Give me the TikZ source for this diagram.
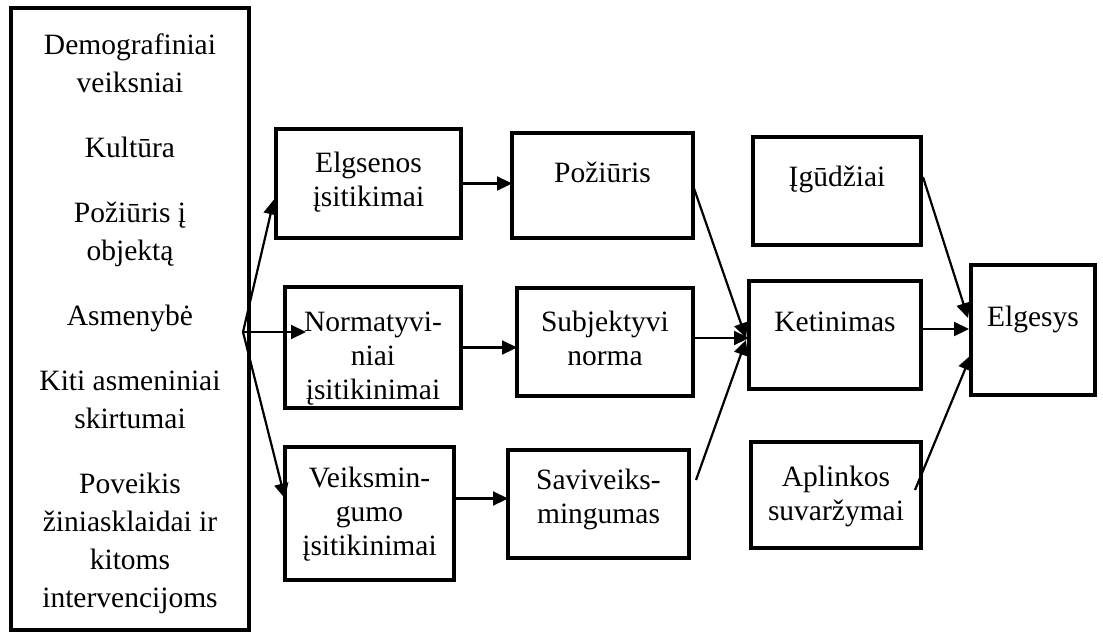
\documentclass[tikz,border=0pt]{standalone}
\usepackage{fontspec}
\setmainfont{Liberation Serif}
\usetikzlibrary{arrows.meta,calc}

% #1 box width, #2 box height, #3 distance from the top edge to the first baseline, #4 lines
\newcommand{\boxlines}[4]{\parbox[c][#2][t]{#1}{\centering\lineskiplimit=-20pt\rule{0pt}{#3}#4}}

\begin{document}
\begin{tikzpicture}[x=1pt,y=-1pt,
  bx/.style={draw, line width=4.5pt, inner sep=0pt, outer sep=0pt,
             font=\fontsize{29.5}{34}\selectfont},
  arr/.style={line width=2.2pt, -{Triangle[length=15pt,width=14pt]}}]
\useasboundingbox (0,0) rectangle (1103,635);

% column of external factors
\node[bx, font=\fontsize{29.5}{38}\selectfont] (L) at (130,319)
  {\boxlines{238pt}{622pt}{46pt}{Demografiniai\\veiksniai\\[27pt]Kultūra\\[27pt]Požiūris į\\objektą\\[27pt]Asmenybė\\[27pt]Kiti asmeniniai\\skirtumai\\[27pt]Poveikis\\žiniasklaidai ir\\kitoms\\intervencijoms}};

% beliefs
\node[bx] (E1) at (368.5,183.5) {\boxlines{185pt}{109pt}{43pt}{Elgsenos\\įsitikimai}};
\node[bx] (N)  at (373,347.5)   {\boxlines{176pt}{121pt}{44pt}{Normatyvi-\\niai\\įsitikinimai}};
\node[bx] (V)  at (369.5,513.5) {\boxlines{169pt}{133pt}{40pt}{Veiksmin-\\gumo\\įsitikinimai}};

% attitudes, norms, efficacy
\node[bx] (P)  at (602.5,185.5) {\boxlines{181pt}{105pt}{49pt}{Požiūris}};
\node[bx] (S)  at (605,342)     {\boxlines{176pt}{108pt}{43pt}{Subjektyvi\\norma}};
\node[bx] (SV) at (598.5,504)   {\boxlines{181pt}{108pt}{39pt}{Saviveiks-\\mingumas}};

% intention and moderators
\node[bx] (I)  at (837,191) {\boxlines{168pt}{108pt}{49pt}{Įgūdžiai}};
\node[bx] (K)  at (835,335) {\boxlines{172pt}{108pt}{50pt}{Ketinimas}};
\node[bx] (A)  at (836,495) {\boxlines{170pt}{106pt}{44pt}{Aplinkos\\suvaržymai}};

% behaviour
\node[bx] (G)  at (1033,330) {\boxlines{124pt}{130pt}{61pt}{Elgesys}};

% fan of arrows leaving the factor column
\coordinate (fan) at (243,332);
\draw[arr] (fan) -- ($(E1.west)+(-2,16)$);
\draw[arr] (fan) -- ($(fan -| N.west)+(21,0)$);
\draw[arr] (fan) -- ($(V.west)+(0,-15)$);

% beliefs to their outcomes
\draw[arr] (E1.east) -- (E1.east -| P.west);
\draw[arr] (N.east) -- (N.east -| S.west);
\draw[arr] ($(V.east)+(0,-15)$) -- ($(V.east -| SV.west)+(0,-15)$);

% into the intention
\draw[arr] (P.east) -- ($(K.west)+(-3,3)$);
\draw[arr] ($(S.east)+(0,-4)$) -- ($(S.east -| K.west)+(0,-4)$);
\draw[arr] ($(SV.east)+(7,-24)$) -- ($(K.west)+(-3,5)$);

% into the behaviour
\draw[arr] ($(I.east)+(2,-14)$) -- ($(G.west)+(-3,-12)$);
\draw[arr] ($(K.east)+(0,-6)$) -- ($(K.east -| G.west)+(-2,-6)$);
\draw[arr] ($(A.east)+(-6,-5)$) -- ($(G.west)+(0,25)$);
\end{tikzpicture}
\end{document}
